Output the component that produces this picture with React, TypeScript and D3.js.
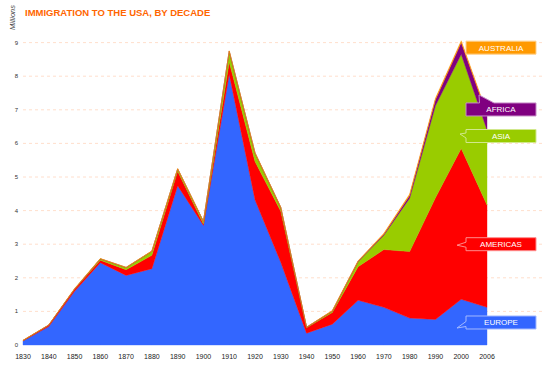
import React from 'react';
import * as d3 from 'd3';

const years = ['1830', '1840', '1850', '1860', '1870', '1880', '1890', '1900', '1910', '1920', '1930', '1940', '1950', '1960', '1970', '1980', '1990', '2000', '2006'];
const europe = [0.12, 0.55, 1.6, 2.45, 2.07, 2.27, 4.74, 3.56, 8.06, 4.32, 2.46, 0.35, 0.62, 1.33, 1.12, 0.8, 0.76, 1.36, 1.12];
const americas = [0.012, 0.04, 0.06, 0.075, 0.17, 0.4, 0.43, 0.04, 0.36, 1.14, 1.52, 0.16, 0.35, 1.0, 1.72, 1.98, 3.62, 4.49, 3.05];
const asia = [0.001, 0.001, 0.001, 0.04, 0.065, 0.12, 0.07, 0.075, 0.32, 0.25, 0.11, 0.017, 0.037, 0.15, 0.43, 1.59, 2.74, 2.8, 2.23];
const africa = [0.001, 0.001, 0.002, 0.001, 0.001, 0.001, 0.001, 0.001, 0.007, 0.008, 0.006, 0.002, 0.007, 0.014, 0.029, 0.08, 0.18, 0.35, 0.45];
const australia = [0.008, 0.01, 0.02, 0.01, 0.01, 0.011, 0.013, 0.004, 0.012, 0.012, 0.009, 0.002, 0.015, 0.013, 0.026, 0.042, 0.045, 0.056, 0.04];
const yTicks = [0, 1, 2, 3, 4, 5, 6, 7, 8, 9];
const regions = ['EUROPE', 'AMERICAS', 'ASIA', 'AFRICA', 'AUSTRALIA'];
const colors = ['#3366FF', '#FF0000', '#99CC00', '#800080', '#FF9900'];
const labelValues = [0.67, 3.0, 6.22, 7.01, 8.85];

const FONT = '"Liberation Sans", Arial, Helvetica, sans-serif';

export default function App() {
  const W = 545;
  const H = 370;
  const x = d3.scalePoint<string>().domain(years).range([23, 487]);
  const y = d3.scaleLinear().domain([0, 9]).range([345, 42.6]);

  const series = [europe, americas, asia, africa, australia];
  const rows = years.map((yr, i) => {
    const r: any = { year: yr };
    regions.forEach((k, j) => (r[k] = series[j][i]));
    return r;
  });
  const stacked = d3.stack<any>().keys(regions)(rows);
  const area = d3
    .area<any>()
    .x((d) => x(d.data.year) as number)
    .y0((d) => y(d[0]))
    .y1((d) => y(d[1]));

  const bx = 466;
  const bw = 70;
  const bh = 13;

  const calloutPath = (i: number, cy: number) => {
    const top = cy - bh / 2;
    const bot = cy + bh / 2;
    const r = bx + bw;
    if (i === 3) {
      // tail from top edge
      return `M${bx},${top} L${479.5},${top} L${479},${cy - 14.5} L${494},${top} L${r},${top} L${r},${bot} L${bx},${bot} Z`;
    }
    if (i === 4) {
      return `M${bx},${top} L${r},${top} L${r},${bot} L${bx},${bot} Z`;
    }
    const specs: Record<number, [number, number, number, number]> = {
      0: [cy - 1, cy + 4, 457, cy + 5.5],
      1: [cy - 2, cy + 3, 457, cy + 1],
      2: [cy - 3, cy + 2, 460, cy - 2],
    };
    const [b1, b2, tx, ty] = specs[i];
    return `M${bx},${top} L${r},${top} L${r},${bot} L${bx},${bot} L${bx},${b2} L${tx},${ty} L${bx},${b1} Z`;
  };

  return (
    <svg
      width={W}
      height={H}
      style={{ position: 'absolute', left: 0, top: 0, background: '#fff' }}
      fontFamily={FONT}
    >
      <rect width={W} height={H} fill="#fff" />
      <text x={25} y={16} fontSize={9.5} fontWeight="bold" fill="#FF6600">
        IMMIGRATION TO THE USA, BY DECADE
      </text>
      <text
        transform="translate(14.5,17.5) rotate(-90)"
        textAnchor="middle"
        fontSize={7.5}
        fontStyle="italic"
        fill="#444"
      >
        Millions
      </text>
      {yTicks
        .filter((t) => t > 0)
        .map((t) => (
          <line
            key={'g' + t}
            x1={23}
            x2={W}
            y1={y(t)}
            y2={y(t)}
            stroke="#FFD6BF"
            strokeWidth={0.8}
            strokeDasharray="3,3"
          />
        ))}
      {yTicks.map((t) => (
        <text key={'yt' + t} x={16.5} y={y(t) + 2} fontSize={6} textAnchor="middle" fill="#333">
          {t}
        </text>
      ))}
      {stacked.map((s, i) => (
        <path key={s.key} d={area(s as any) || ''} fill={colors[i]} stroke={colors[i]} strokeWidth={0.4} />
      ))}
      {years.map((yr) => (
        <text key={'xt' + yr} x={x(yr)} y={358.5} fontSize={7} textAnchor="middle" fill="#222">
          {yr}
        </text>
      ))}
      {regions.map((k, i) => {
        const cy = y(labelValues[i]);
        const stroke = d3.interpolateRgb(colors[i], '#ffffff')(0.55);
        return (
          <g key={'lab' + k}>
            <path d={calloutPath(i, cy)} fill={colors[i]} stroke={stroke} strokeWidth={1} />
            <text x={bx + bw / 2} y={cy + 3} fontSize={8} textAnchor="middle" fill="#fff">
              {k}
            </text>
          </g>
        );
      })}
    </svg>
  );
}
